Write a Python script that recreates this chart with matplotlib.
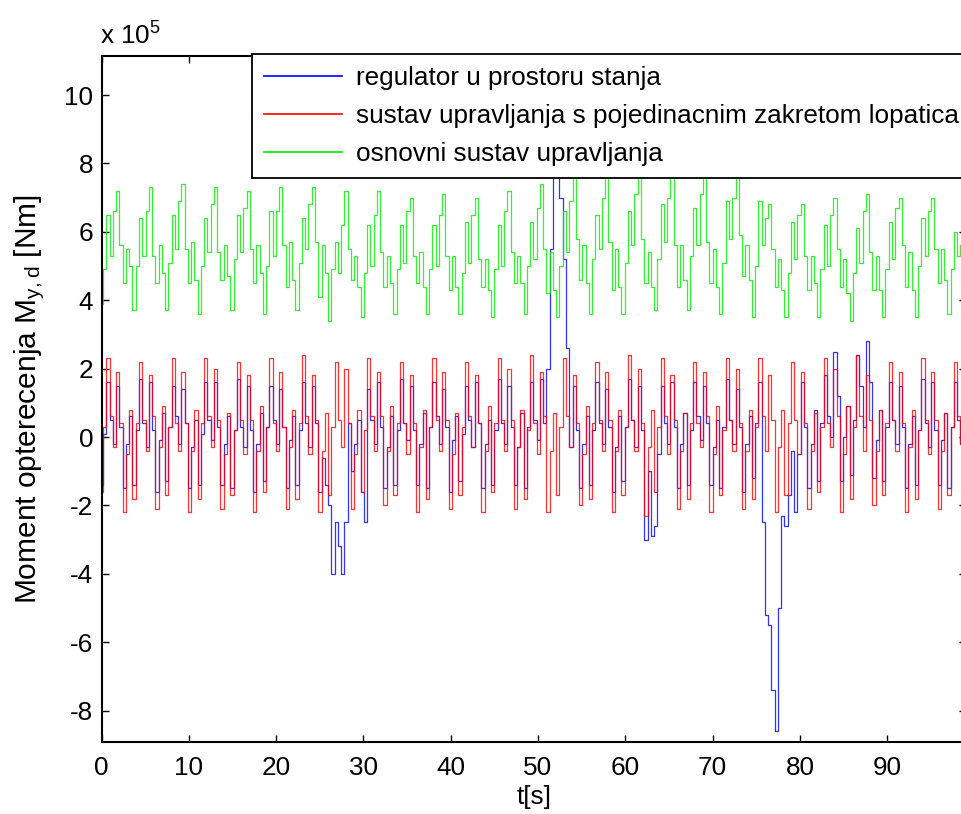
import numpy as np
import matplotlib; matplotlib.use("Agg")
import matplotlib.pyplot as plt
from matplotlib.lines import Line2D

# sample step of the logged signals [s]; values below are in units of 1e5 Nm
DT = 0.3734

BLUE = [-1.4, 0.1,
        1.6, 0.5, -0.2, 1.5, 0.3, -1.5, -0.2, 0.6, -1.4, 0.2,
        1.7, 0.4, -0.3, 1.6, 0.2, -1.6, -0.1, 0.7, -1.3, 0.3,
        1.5, 0.6, -0.2, 1.4, 0.4, -1.5, -0.3, 0.5, -1.4, 0.1,
        1.6, 0.5, -0.1, 1.6, 0.3, -1.4, -0.2, 0.6, -1.5, 0.2,
        1.7, 0.3, -0.3, 1.5, 0.2, -1.6, -0.2, 0.7, -1.3, 0.3,
        1.5, 0.5, -0.2, 1.4, 0.3, -1.5, -0.1, 0.6, -1.4, 0.2,
        1.6, 0.4, -0.3, 1.5, 0.4, -1.6, -0.6, -1.4, -2.0, -4.0,
        -2.5, -3.2, -4.0, -2.5, 0.4, -1.0, -0.2, 0.5, -1.6, -2.5,
        1.4, 0.5, -0.2, 1.6, 0.3, -1.5, -0.3, 0.6, -1.4, 0.2,
        1.7, 0.4, -0.1, 1.5, 0.2, -1.4, -0.2, 0.7, -1.5, 0.3,
        1.6, 0.6, -0.2, 1.4, 0.3, -1.6, -0.1, 0.6, -1.3, 0.1,
        1.5, 0.5, -0.3, 1.6, 0.4, -1.5, -0.2, 0.5, -1.4, 0.2,
        1.7, 0.4, -0.2, 1.5, 0.3, -1.4, -0.3, 0.7, -1.5, 0.3,
        1.6, 0.5, -0.1, 1.7, 0.4, 2.0, 5.5, 8.2, 8.8, 7.0,
        5.2, 2.6, -0.3, 1.5, 0.2, -1.5, -0.2, 0.6, -1.4, 0.2,
        1.6, 0.4, -0.2, 1.4, 0.3, -1.6, -0.3, 0.6, -1.3, 0.3,
        1.7, 0.5, -0.3, 1.5, 0.2, -3.0, -1.0, -2.9, -2.6, -0.5,
        1.5, 0.4, -0.2, 1.6, 0.3, -1.5, -0.2, 0.7, -1.4, 0.2,
        1.6, 0.6, -0.1, 1.5, 0.4, -1.4, -0.3, 0.5, -1.5, 0.3,
        1.7, 0.5, -0.2, 1.4, 0.3, -1.6, -0.2, 0.6, -1.2, 0.4,
        1.6, -2.5, -5.2, -5.5, -7.4, -8.6, -5.0, -2.3, -2.6, -1.7,
        -0.4, -2.2, -0.5, 1.6, 0.3, -1.5, -0.2, 0.8, -1.3, 0.4,
        1.8, 0.6, 0.0, 2.5, 1.2, -1.3, 0.0, 0.9, -1.1, 0.5,
        2.4, 1.5, 0.3, 2.8, 1.6, -1.2, -0.1, 0.8, -1.3, 0.3,
        1.6, 0.5, -0.2, 1.5, 0.3, -1.5, -0.2, 0.6, -1.4, 0.2,
        1.7, 0.4, -0.3, 1.6, 0.2, -1.4, -0.1, 0.7, -1.5, 0.3,
        1.6, 0.5, -0.2]

RED = [-1.6, 0.3,
       2.3, 0.6, -0.3, 1.9, 0.4, -2.2, -0.5, 0.8, -1.8, 0.4,
       2.2, 0.5, -0.4, 1.8, 0.6, -2.1, -0.3, 0.9, -1.7, 0.3,
       2.3, 0.4, -0.4, 1.9, 0.4, -2.2, -0.4, 0.8, -1.8, 0.4,
       2.3, 0.6, -0.3, 2.0, 0.5, -2.1, -0.5, 0.7, -1.7, 0.2,
       2.2, 0.5, -0.5, 1.8, 0.5, -2.2, -0.4, 0.9, -1.6, 0.3,
       2.3, 0.4, -0.4, 1.9, 0.3, -2.1, -0.3, 0.8, -1.8, 0.4,
       2.4, 0.6, -0.5, 1.8, 0.5, -2.2, -0.4, 0.7, -1.7, 0.3,
       2.2, 0.5, -0.3, 2.0, 0.4, -2.1, -0.5, 0.8, -1.6, 0.2,
       2.3, 0.6, -0.4, 1.9, 0.6, -2.0, -0.4, 0.9, -1.7, 0.4,
       2.2, 0.4, -0.5, 1.8, 0.4, -2.2, -0.3, 0.8, -1.8, 0.3,
       2.3, 0.5, -0.4, 1.9, 0.5, -2.1, -0.5, 0.7, -1.7, 0.3,
       2.2, 0.6, -0.3, 1.8, 0.4, -2.2, -0.4, 0.9, -1.6, 0.4,
       2.3, 0.5, -0.4, 2.0, 0.5, -2.1, -0.3, 0.8, -1.8, 0.2,
       2.4, 0.4, -0.5, 1.9, 0.6, -2.2, -0.4, 0.7, -1.7, 0.3,
       2.3, 0.6, -0.3, 1.8, 0.4, -2.0, -0.5, 0.9, -1.8, 0.4,
       2.2, 0.5, -0.4, 1.9, 0.5, -2.2, -0.4, 0.8, -1.7, 0.3,
       2.4, 0.5, -0.4, 2.0, 0.4, -2.3, -0.3, 0.8, -1.6, 0.3,
       2.3, 0.6, -0.5, 1.8, 0.5, -2.1, -0.4, 0.7, -1.8, 0.4,
       2.2, 0.4, -0.3, 1.9, 0.6, -2.2, -0.5, 0.9, -1.7, 0.2,
       2.3, 0.5, -0.4, 2.0, 0.4, -2.1, -0.4, 0.8, -1.8, 0.3,
       2.3, 0.6, -0.4, 1.8, 0.5, -2.2, -0.3, 0.8, -1.7, 0.4,
       2.2, 0.5, -0.5, 1.9, 0.4, -2.1, -0.4, 0.7, -1.6, 0.3,
       2.3, 0.4, -0.3, 2.0, 0.6, -2.2, -0.5, 0.9, -1.8, 0.3,
       2.4, 0.6, -0.4, 1.8, 0.5, -2.0, -0.4, 0.8, -1.7, 0.4,
       2.2, 0.5, -0.4, 1.9, 0.4, -2.2, -0.3, 0.8, -1.8, 0.2,
       2.3, 0.5, -0.5, 1.9, 0.5, -2.1, -0.4, 0.7, -1.7, 0.3,
       2.2, 0.6, -0.2]

GREEN = [3.9, 4.9, 6.5, 5.3, 6.6,
         7.2, 5.6, 4.5, 5.5, 5.0, 3.7, 5.0, 6.4, 5.3, 6.6,
         7.3, 5.3, 4.5, 5.6, 4.8, 3.7, 5.1, 6.5, 5.5, 6.9,
         7.4, 5.5, 4.5, 5.7, 4.6, 3.6, 5.0, 6.4, 5.4, 6.8,
         7.3, 5.4, 4.6, 5.6, 4.7, 3.7, 5.2, 6.5, 5.4, 6.7,
         7.2, 5.5, 4.5, 5.6, 4.8, 3.6, 5.0, 6.6, 5.3, 6.6,
         7.3, 5.6, 4.4, 5.7, 4.6, 3.7, 5.1, 6.4, 5.5, 6.8,
         7.3, 5.7, 4.1, 5.6, 4.8, 3.4, 4.9, 5.7, 4.8, 6.2,
         7.2, 5.5, 4.6, 5.3, 4.4, 3.5, 4.8, 6.2, 5.0, 6.5,
         7.2, 5.4, 4.4, 5.3, 4.5, 3.6, 4.9, 6.2, 5.1, 6.6,
         7.0, 5.3, 4.5, 5.4, 4.4, 3.6, 4.9, 6.2, 5.0, 6.5,
         7.1, 5.3, 4.3, 5.3, 4.4, 3.6, 4.8, 6.3, 5.1, 6.5,
         7.0, 5.2, 4.4, 5.2, 4.3, 3.5, 4.9, 6.2, 5.0, 6.6,
         7.2, 5.4, 4.5, 5.3, 4.5, 3.6, 5.0, 6.3, 5.2, 6.7,
         7.4, 5.5, 4.2, 5.4, 4.3, 3.5, 5.0, 6.6, 5.4, 6.9,
         7.8, 5.8, 4.6, 5.6, 4.5, 3.6, 5.2, 6.5, 5.5, 7.0,
         7.9, 5.7, 4.3, 5.5, 4.4, 3.6, 5.1, 6.6, 5.6, 7.1,
         7.8, 5.8, 4.5, 5.4, 4.4, 3.7, 5.2, 6.8, 5.7, 7.0,
         7.9, 5.6, 4.4, 5.6, 4.6, 3.7, 5.3, 6.7, 5.6, 7.1,
         7.8, 5.7, 4.5, 5.5, 4.4, 3.6, 5.1, 6.9, 5.8, 7.0,
         8.0, 5.9, 4.7, 5.6, 4.6, 3.5, 5.0, 6.9, 5.6, 6.4,
         6.8, 5.5, 4.4, 5.2, 4.3, 3.5, 4.8, 6.3, 5.2, 6.5,
         6.8, 5.3, 4.3, 5.3, 4.5, 3.5, 4.9, 6.2, 5.0, 6.5,
         7.0, 5.5, 4.4, 5.2, 4.2, 3.4, 4.8, 6.1, 5.1, 6.6,
         7.1, 5.4, 4.3, 5.3, 4.3, 3.5, 4.9, 6.3, 5.2, 6.7,
         7.0, 5.6, 4.4, 5.4, 4.3, 3.5, 5.0, 6.4, 5.3, 6.6,
         7.0, 5.5, 4.5, 5.5, 4.6, 3.6, 4.9, 6.0, 5.3, 5.6]

LABELS = ["regulator u prostoru stanja",
          "sustav upravljanja s pojedinacnim zakretom lopatica",
          "osnovni sustav upravljanja"]
COLORS = ["#0000ff", "#ff0000", "#00ee00"]
XTICKS = list(range(0, 91, 10))
YTICKS = list(range(-8, 11, 2))

plt.rcParams["font.family"] = ["Liberation Sans", "DejaVu Sans"]
plt.rcParams["axes.unicode_minus"] = False
plt.rcParams["mathtext.default"] = "regular"
FS = 18.8

W, H = 962, 814
fig = plt.figure(figsize=(W / 100, H / 100), dpi=100)
x0, x1, y0, y1 = 101.5, 101.5 + 99 * 8.73, 55.7, 741.7
ax = fig.add_axes([x0 / W, 1 - y1 / H, (x1 - x0) / W, (y1 - y0) / H])

for ser, col in zip([BLUE, RED, GREEN], COLORS):
    t = np.arange(len(ser)) * DT
    ax.plot(t, ser, color=col, lw=0.9, alpha=0.8, drawstyle="steps-mid")

ax.set_xlim(0, 99)
ax.set_ylim(-8.91, 11.15)
ax.set_xticks(XTICKS)
ax.set_yticks(YTICKS)
ax.tick_params(direction="in", top=True, right=True, length=5, width=1,
               labelsize=FS)
ax.tick_params(axis="x", pad=10)
ax.tick_params(axis="y", pad=6)
for s in ax.spines.values():
    s.set_linewidth(1.5)

ax.set_xlabel("t[s]", fontsize=FS, labelpad=4)
ax.set_ylabel("Moment opterecenja M$_{y,d}$ [Nm]", fontsize=21.5, labelpad=12)
fig.text(100 / W, 1 - 36 / H, "x 10$^5$", fontsize=FS, va="center", ha="left")

handles = [Line2D([], [], color=c, lw=1.2) for c in COLORS]
leg = ax.legend(handles, LABELS, loc="upper left",
                bbox_to_anchor=(252 / W, 1 - 54 / H), bbox_transform=fig.transFigure,
                fontsize=FS, frameon=True, fancybox=False, framealpha=1,
                edgecolor="k", borderpad=0.45, borderaxespad=0,
                handlelength=3.0, handletextpad=0.55, labelspacing=0.55)
leg.get_frame().set_linewidth(1.3)
leg.set_zorder(5)

fig.savefig("out.png", dpi=100)
